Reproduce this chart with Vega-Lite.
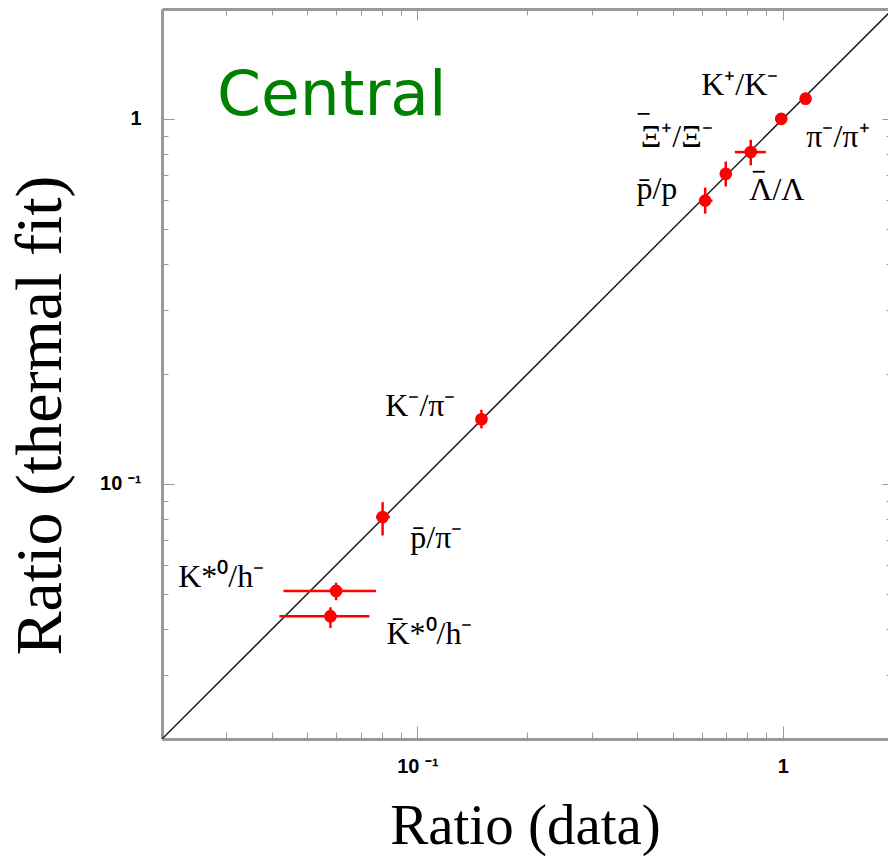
{
  "$schema": "https://vega.github.io/schema/vega-lite/v6.json",
  "width": 726,
  "height": 730,
  "autosize": {"type": "none"},
  "padding": {"left": 162, "top": 9, "right": 0, "bottom": 120},
  "background": "white",
  "config": {"view": {"stroke": null}},
  "datasets": {
    "pts": [
      {"name": "K+/K-", "x": 1.154, "y": 1.136, "xlo": 1.154, "xhi": 1.154, "ylo": 1.136, "yhi": 1.136},
      {"name": "pi-/pi+", "x": 0.99, "y": 1.0, "xlo": 0.99, "xhi": 0.99, "ylo": 1.0, "yhi": 1.0},
      {"name": "Lbar/L", "x": 0.817, "y": 0.811, "xlo": 0.739, "xhi": 0.898, "ylo": 0.746, "yhi": 0.876},
      {"name": "Xibar/Xi", "x": 0.698, "y": 0.707, "xlo": 0.685, "xhi": 0.711, "ylo": 0.653, "yhi": 0.764},
      {"name": "pbar/p", "x": 0.613, "y": 0.597, "xlo": 0.59, "xhi": 0.642, "ylo": 0.55, "yhi": 0.648},
      {"name": "K-/pi-", "x": 0.1497, "y": 0.1503, "xlo": 0.146, "xhi": 0.153, "ylo": 0.1419, "yhi": 0.1596},
      {"name": "pbar/pi-", "x": 0.0803, "y": 0.0811, "xlo": 0.077, "xhi": 0.0841, "ylo": 0.0722, "yhi": 0.0891},
      {"name": "K*0/h-", "x": 0.0599, "y": 0.0509, "xlo": 0.043, "xhi": 0.077, "ylo": 0.048, "yhi": 0.0536},
      {"name": "K*0bar/h-", "x": 0.0578, "y": 0.0434, "xlo": 0.0419, "xhi": 0.0739, "ylo": 0.0403, "yhi": 0.0459}
    ],
    "labels": [
      {"lx": 0.762, "ly": 1.163, "t": "K\u207a/K\u207b"},
      {"lx": 0.5125, "ly": 0.839, "t": "\u039e\u207a/\u039e\u207b"},
      {"lx": 1.415, "ly": 0.839, "t": "\u03c0\u207b/\u03c0\u207a"},
      {"lx": 0.452, "ly": 0.6045, "t": "p\u0304/p"},
      {"lx": 0.963, "ly": 0.601, "t": "\u039b/\u039b"},
      {"lx": 0.1019, "ly": 0.1534, "t": "K\u207b/\u03c0\u207b"},
      {"lx": 0.1127, "ly": 0.0669, "t": "p\u0304/\u03c0\u207b"},
      {"lx": 0.02904, "ly": 0.0523, "t": "K*\u2070/h\u207b"},
      {"lx": 0.1079, "ly": 0.0365, "t": "K\u0304*\u2070/h\u207b"}
    ],
    "bars": [
      {"x1": 0.4006, "x2": 0.4321, "y": 1.032},
      {"x1": 0.8275, "x2": 0.8927, "y": 0.7164}
    ],
    "title": [{"lx": 0.0283, "ly": 1.025, "t": "Central"}],
    "diag": [{"x": 0.02, "y": 0.02}, {"x": 2, "y": 2}]
  },
  "layer": [
    {
      "data": {"name": "diag"},
      "mark": {"type": "line", "color": "#222222", "strokeWidth": 1.5, "clip": true},
      "encoding": {
        "x": {"field": "x", "type": "quantitative",
          "scale": {"type": "log", "domain": [0.02, 1.94], "nice": false, "zero": false},
          "axis": {"orient": "top", "title": null, "labels": false, "grid": false,
            "values": [0.03,0.04,0.05,0.06,0.07,0.08,0.09,0.1,0.2,0.3,0.4,0.5,0.6,0.7,0.8,0.9,1],
            "tickSize": {"condition": {"test": "datum.value==0.1||datum.value==1", "value": -11}, "value": -6},
            "tickColor": "#999999", "domainColor": "#999999", "domainWidth": 3}},
        "y": {"field": "y", "type": "quantitative",
          "scale": {"type": "log", "domain": [0.02, 2], "nice": false, "zero": false},
          "axis": {"orient": "right", "title": null, "labels": false, "grid": false, "domain": false,
            "values": [0.03,0.04,0.05,0.06,0.07,0.08,0.09,0.1,0.2,0.3,0.4,0.5,0.6,0.7,0.8,0.9,1],
            "tickSize": {"condition": {"test": "datum.value==0.1||datum.value==1", "value": -6}, "value": -2},
            "tickColor": "#999999"}}
      }
    },
    {
      "layer": [
        {
          "data": {"name": "pts"},
          "mark": {"type": "rule", "color": "#ff0000", "strokeWidth": 2.5},
          "encoding": {
            "x": {"field": "xlo", "type": "quantitative",
              "scale": {"type": "log", "domain": [0.02, 1.94], "nice": false, "zero": false},
              "axis": {"orient": "bottom", "title": "Ratio (data)", "grid": false,
                "values": [0.03,0.04,0.05,0.06,0.07,0.08,0.09,0.1,0.2,0.3,0.4,0.5,0.6,0.7,0.8,0.9,1],
                "labelExpr": "datum.value==0.1 ? '10 \u207b\u00b9' : (datum.value==1 ? '1' : '')",
                "tickSize": {"condition": {"test": "datum.value==0.1||datum.value==1", "value": -13}, "value": -7},
                "tickColor": "#999999", "domainColor": "#999999", "domainWidth": 3,
                "labelFont": "Liberation Sans", "labelFontWeight": "bold", "labelFontSize": 20, "labelColor": "#000000",
                "labelPadding": 30, "labelFlush": false, "labelOverlap": false,
                "titleFont": "Liberation Serif", "titleFontSize": 57, "titleFontWeight": "normal", "titleColor": "#000000",
                "titleBaseline": "alphabetic", "titleAlign": "center", "titleX": 363, "titleY": 104}},
            "x2": {"field": "xhi"},
            "y": {"field": "y", "type": "quantitative",
              "scale": {"type": "log", "domain": [0.02, 2], "nice": false, "zero": false},
              "axis": {"orient": "left", "title": "Ratio (thermal fit)", "grid": false,
                "values": [0.03,0.04,0.05,0.06,0.07,0.08,0.09,0.1,0.2,0.3,0.4,0.5,0.6,0.7,0.8,0.9,1],
                "labelExpr": "datum.value==0.1 ? '10 \u207b\u00b9' : (datum.value==1 ? '1' : '')",
                "tickSize": {"condition": {"test": "datum.value==0.1||datum.value==1", "value": -12}, "value": -6},
                "tickColor": "#999999", "domainColor": "#999999", "domainWidth": 3,
                "labelFont": "Liberation Sans", "labelFontWeight": "bold", "labelFontSize": 20, "labelColor": "#000000",
                "labelPadding": 33, "labelFlush": false, "labelOverlap": false,
                "titleFont": "Liberation Serif", "titleFontSize": 66, "titleFontWeight": "normal", "titleColor": "#000000",
                "titleAngle": 270, "titleBaseline": "alphabetic", "titleAlign": "center", "titleX": -102, "titleY": 406}}
          }
        },
        {
          "data": {"name": "pts"},
          "mark": {"type": "rule", "color": "#ff0000", "strokeWidth": 2.5},
          "encoding": {
            "x": {"field": "x", "type": "quantitative",
              "scale": {"type": "log", "domain": [0.02, 1.94], "nice": false, "zero": false}},
            "y": {"field": "ylo", "type": "quantitative",
              "scale": {"type": "log", "domain": [0.02, 2], "nice": false, "zero": false}},
            "y2": {"field": "yhi"}
          }
        },
        {
          "data": {"name": "pts"},
          "mark": {"type": "point", "filled": true, "shape": "circle", "color": "#ff0000", "opacity": 1, "size": 160},
          "encoding": {
            "x": {"field": "x", "type": "quantitative",
              "scale": {"type": "log", "domain": [0.02, 1.94], "nice": false, "zero": false}},
            "y": {"field": "y", "type": "quantitative",
              "scale": {"type": "log", "domain": [0.02, 2], "nice": false, "zero": false}}
          }
        },
        {
          "data": {"name": "labels"},
          "mark": {"type": "text", "font": "Liberation Serif", "fontSize": 32, "color": "#000000", "align": "center", "baseline": "alphabetic"},
          "encoding": {
            "x": {"field": "lx", "type": "quantitative",
              "scale": {"type": "log", "domain": [0.02, 1.94], "nice": false, "zero": false}},
            "y": {"field": "ly", "type": "quantitative",
              "scale": {"type": "log", "domain": [0.02, 2], "nice": false, "zero": false}},
            "text": {"field": "t"}
          }
        },
        {
          "data": {"name": "bars"},
          "mark": {"type": "rule", "color": "#000000", "strokeWidth": 1.8},
          "encoding": {
            "x": {"field": "x1", "type": "quantitative",
              "scale": {"type": "log", "domain": [0.02, 1.94], "nice": false, "zero": false}},
            "x2": {"field": "x2"},
            "y": {"field": "y", "type": "quantitative",
              "scale": {"type": "log", "domain": [0.02, 2], "nice": false, "zero": false}}
          }
        },
        {
          "data": {"name": "title"},
          "mark": {"type": "text", "font": "DejaVu Sans", "fontSize": 63, "color": "#008000", "align": "left", "baseline": "alphabetic"},
          "encoding": {
            "x": {"field": "lx", "type": "quantitative",
              "scale": {"type": "log", "domain": [0.02, 1.94], "nice": false, "zero": false}},
            "y": {"field": "ly", "type": "quantitative",
              "scale": {"type": "log", "domain": [0.02, 2], "nice": false, "zero": false}},
            "text": {"field": "t"}
          }
        }
      ]
    }
  ],
  "resolve": {"scale": {"x": "independent", "y": "independent"}, "axis": {"x": "independent", "y": "independent"}}
}
